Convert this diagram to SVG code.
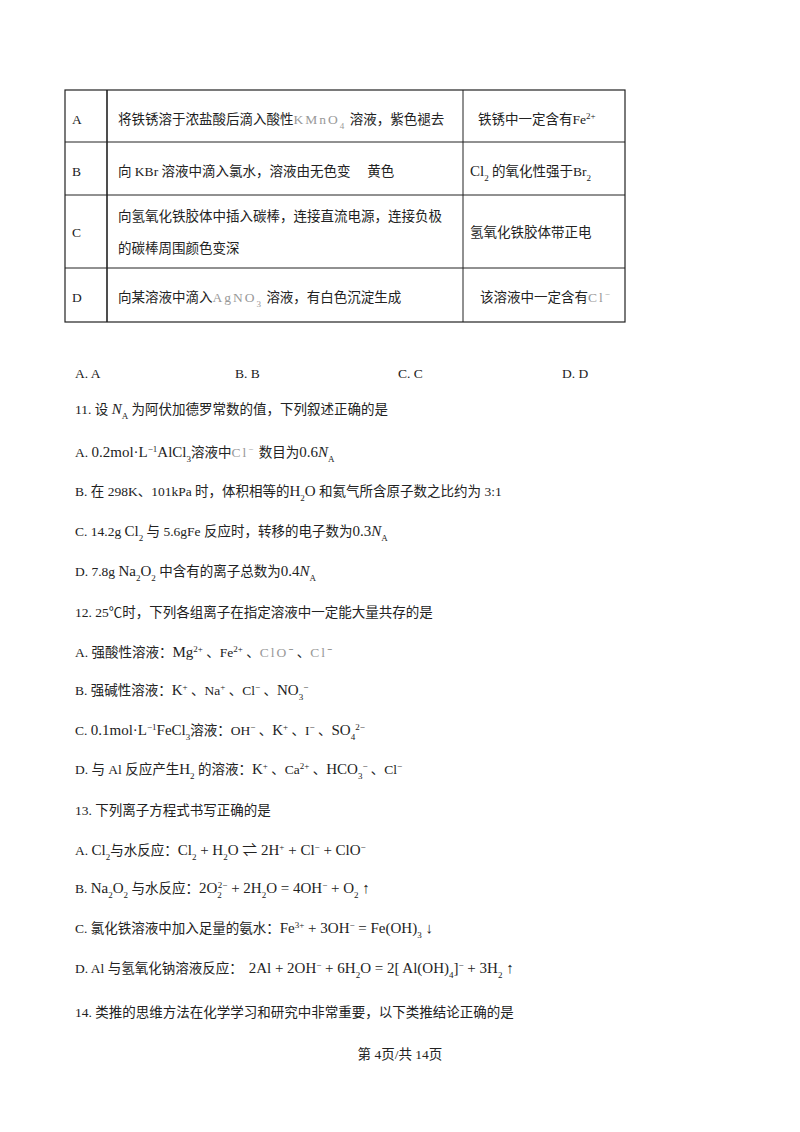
<svg xmlns="http://www.w3.org/2000/svg" width="800" height="1132" viewBox="0 0 800 1132">
<style>
text{font-family:"Liberation Serif","Noto Sans CJK SC",serif;font-size:13.5px;fill:#222}
.s{font-size:9px;baseline-shift:sub}
.p{font-size:9px;baseline-shift:super}
.g{fill:#999;letter-spacing:2px}
.f{font-size:15px}
line{stroke:#222;stroke-width:1}
</style>
<rect width="800" height="1132" fill="#fff"/>
<g id="table">
<rect x="65" y="90" width="560" height="232" fill="none" stroke="#222" stroke-width="1.2"/>
<line x1="107" y1="90" x2="107" y2="322" style="stroke-width:1.6"/>
<line x1="463" y1="90" x2="463" y2="322"/>
<line x1="65" y1="142" x2="625" y2="142"/>
<line x1="65" y1="195" x2="625" y2="195"/>
<line x1="65" y1="268" x2="625" y2="268"/>
<text x="72" y="124">A</text>
<text x="118" y="124">将铁锈溶于浓盐酸后滴入酸性<tspan class="g">KMnO</tspan><tspan class="s g">4</tspan> 溶液，紫色褪去</text>
<text x="478" y="124">铁锈中一定含有Fe<tspan class="p">2+</tspan></text>
<text x="72" y="176">B</text>
<text x="118" y="176">向 KBr 溶液中滴入氯水，溶液由无色变　 黄色</text>
<text x="470" y="176"><tspan class="f">Cl</tspan><tspan class="s">2</tspan>  的氧化性强于Br<tspan class="s">2</tspan></text>
<text x="72" y="237">C</text>
<text x="118" y="221">向氢氧化铁胶体中插入碳棒，连接直流电源，连接负极</text>
<text x="118" y="253">的碳棒周围颜色变深</text>
<text x="470" y="237">氢氧化铁胶体带正电</text>
<text x="72" y="302">D</text>
<text x="118" y="302">向某溶液中滴入<tspan class="g">AgNO</tspan><tspan class="s g">3</tspan> 溶液，有白色沉淀生成</text>
<text x="480" y="302">该溶液中一定含有<tspan class="g">Cl</tspan><tspan class="p g">−</tspan></text>
</g>
<g id="text">
<text x="75" y="378">A. A</text>
<text x="235" y="378">B. B</text>
<text x="398" y="378">C. C</text>
<text x="562" y="378">D. D</text>
<text x="75" y="414">11. 设 <tspan font-style="italic" class="f">N</tspan><tspan class="s">A</tspan> 为阿伏加德罗常数的值，下列叙述正确的是</text>
<text x="75" y="457">A. <tspan class="f">0.2mol·L<tspan class="p">−1</tspan>AlCl</tspan><tspan class="s">3</tspan>溶液中<tspan class="g">Cl</tspan><tspan class="p g">−</tspan> 数目为<tspan class="f">0.6<tspan font-style="italic">N</tspan></tspan><tspan class="s">A</tspan></text>
<text x="75" y="496">B. 在 298K、101kPa 时，体积相等的<tspan class="f">H<tspan class="s">2</tspan>O</tspan> 和氦气所含原子数之比约为 3:1</text>
<text x="75" y="536">C. 14.2g <tspan class="f">Cl</tspan><tspan class="s">2</tspan> 与 5.6gFe 反应时，转移的电子数为<tspan class="f">0.3<tspan font-style="italic">N</tspan></tspan><tspan class="s">A</tspan></text>
<text x="75" y="576">D. 7.8g <tspan class="f">Na</tspan><tspan class="s">2</tspan><tspan class="f">O</tspan><tspan class="s">2</tspan> 中含有的离子总数为<tspan class="f">0.4<tspan font-style="italic">N</tspan></tspan><tspan class="s">A</tspan></text>
<text x="75" y="617">12. 25℃时，下列各组离子在指定溶液中一定能大量共存的是</text>
<text x="75" y="657">A. 强酸性溶液：<tspan class="f">Mg</tspan><tspan class="p">2+</tspan> 、Fe<tspan class="p">2+</tspan> 、<tspan class="g">ClO</tspan><tspan class="p">−</tspan> 、<tspan class="g">Cl</tspan><tspan class="p">−</tspan></text>
<text x="75" y="695">B. 强碱性溶液：<tspan class="f">K</tspan><tspan class="p">+</tspan> 、Na<tspan class="p">+</tspan> 、Cl<tspan class="p">−</tspan> 、<tspan class="f">NO</tspan><tspan class="s">3</tspan><tspan class="p">−</tspan></text>
<text x="75" y="735">C. <tspan class="f">0.1mol·L<tspan class="p">−1</tspan>FeCl</tspan><tspan class="s">3</tspan>溶液：OH<tspan class="p">−</tspan> 、<tspan class="f">K</tspan><tspan class="p">+</tspan> 、I<tspan class="p">−</tspan> 、<tspan class="f">SO</tspan><tspan class="s">4</tspan><tspan class="p">2−</tspan></text>
<text x="75" y="774">D. 与 Al 反应产生<tspan class="f">H</tspan><tspan class="s">2</tspan> 的溶液：<tspan class="f">K</tspan><tspan class="p">+</tspan> 、Ca<tspan class="p">2+</tspan> 、<tspan class="f">HCO</tspan><tspan class="s">3</tspan><tspan class="p">−</tspan> 、Cl<tspan class="p">−</tspan></text>
<text x="75" y="815">13. 下列离子方程式书写正确的是</text>
<text x="75" y="855">A. <tspan class="f">Cl</tspan><tspan class="s">2</tspan>与水反应：<tspan class="f">Cl</tspan><tspan class="s">2</tspan><tspan class="f"> + H</tspan><tspan class="s">2</tspan><tspan class="f">O ⇌ 2H</tspan><tspan class="p">+</tspan><tspan class="f"> + Cl</tspan><tspan class="p">−</tspan><tspan class="f"> + ClO</tspan><tspan class="p">−</tspan></text>
<text x="75" y="893">B. <tspan class="f">Na</tspan><tspan class="s">2</tspan><tspan class="f">O</tspan><tspan class="s">2</tspan> 与水反应：<tspan class="f">2O</tspan><tspan class="s">2</tspan><tspan class="p" dx="-4">2−</tspan><tspan class="f"> + 2H</tspan><tspan class="s">2</tspan><tspan class="f">O = 4OH</tspan><tspan class="p">−</tspan><tspan class="f"> + O</tspan><tspan class="s">2</tspan><tspan class="f"> ↑</tspan></text>
<text x="75" y="933">C. 氯化铁溶液中加入足量的氨水：<tspan class="f">Fe</tspan><tspan class="p">3+</tspan><tspan class="f"> + 3OH</tspan><tspan class="p">−</tspan><tspan class="f"> = Fe(OH)</tspan><tspan class="s">3</tspan><tspan class="f"> ↓</tspan></text>
<text x="75" y="973">D. Al 与氢氧化钠溶液反应：<tspan class="f" dx="6">2Al + 2OH</tspan><tspan class="p">−</tspan><tspan class="f"> + 6H</tspan><tspan class="s">2</tspan><tspan class="f">O = 2[ Al(OH)</tspan><tspan class="s">4</tspan><tspan class="f">]</tspan><tspan class="p">−</tspan><tspan class="f"> + 3H</tspan><tspan class="s">2</tspan><tspan class="f"> ↑</tspan></text>
<text x="75" y="1017">14. 类推的思维方法在化学学习和研究中非常重要，以下类推结论正确的是</text>
<text x="400" y="1059" text-anchor="middle">第 4页/共 14页</text>
</g>
</svg>
